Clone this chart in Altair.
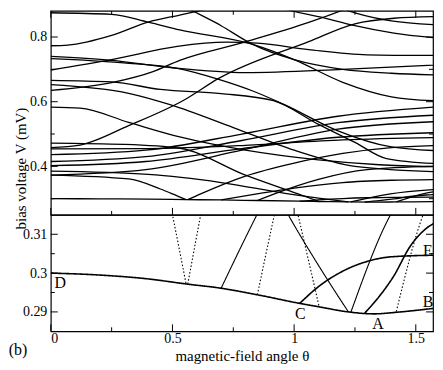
import math
import altair as alt
import pandas as pd

# ---------------- data (theta in rad, V in mV) ----------------
c01 = [(0, 0.875), (0.25, 0.870), (0.4, 0.846), (0.53, 0.822), (0.83, 0.777), (1.0, 0.73), (1.2, 0.66), (1.4, 0.615), (1.571, 0.603)]
c02 = [(0, 0.773), (0.07, 0.775), (0.25, 0.805), (0.4, 0.846), (0.53, 0.868), (0.72, 0.9), (0.8, 0.915)]
c03 = [(0.48, 0.93), (0.54, 0.9), (0.7, 0.835), (0.83, 0.777), (1.0, 0.73), (1.2, 0.70), (1.4, 0.688), (1.571, 0.683)]
c04 = [(0, 0.698), (0.25, 0.73), (0.52, 0.771), (0.72, 0.784), (0.85, 0.781), (1.06, 0.761), (1.3, 0.745), (1.571, 0.743)]
c05 = [(0, 0.740), (0.25, 0.728), (0.5, 0.705), (0.8, 0.69), (1.2, 0.70), (1.571, 0.713)]
c06 = [(0, 0.733), (0.3, 0.72), (0.52, 0.703), (0.69, 0.669), (0.83, 0.633), (0.96, 0.591), (1.18, 0.51), (1.4, 0.46), (1.571, 0.449)]
c07 = [(0, 0.666), (0.25, 0.661), (0.45, 0.638), (0.7, 0.625), (0.915, 0.603), (1.1, 0.53), (1.25, 0.474), (1.38, 0.424), (1.571, 0.409)]
c08 = [(0, 0.653), (0.32, 0.626), (0.49, 0.591), (0.75, 0.52), (1.0, 0.45), (1.25, 0.40), (1.571, 0.384)]
c09 = [(0, 0.635), (0.25, 0.659), (0.42, 0.693), (0.53, 0.728), (0.8, 0.785), (1.06, 0.845), (1.25, 0.898), (1.32, 0.92)]
c10 = [(0, 0.458), (0.12, 0.466), (0.32, 0.526), (0.55, 0.606), (0.69, 0.672), (1.06, 0.786), (1.25, 0.841), (1.41, 0.858), (1.571, 0.863)]
c11 = [(1.12, 0.91), (1.25, 0.875), (1.4, 0.85), (1.571, 0.838)]
c12 = [(0.88, 0.91), (0.91, 0.9), (1.13, 0.858), (1.25, 0.835), (1.41, 0.812), (1.571, 0.798)]
c13 = [(0, 0.583), (0.12, 0.58), (0.32, 0.536), (0.53, 0.491), (0.8, 0.45), (1.1, 0.42), (1.35, 0.405), (1.571, 0.399)]
c14 = [(0, 0.472), (0.3, 0.468), (0.53, 0.456), (0.8, 0.373), (1.016, 0.315), (1.103, 0.2913)]
c15 = [(0, 0.436), (0.39, 0.45), (0.785, 0.50), (1.18, 0.555), (1.571, 0.583)]
c16 = [(0, 0.415), (0.39, 0.43), (0.785, 0.48), (1.18, 0.535), (1.571, 0.558)]
c17 = [(0, 0.402), (0.39, 0.415), (0.785, 0.455), (1.18, 0.49), (1.571, 0.504)]
c18 = [(0, 0.385), (0.4, 0.375), (0.7, 0.35), (0.976, 0.315), (1.1, 0.302), (1.223, 0.290)]
c19 = [(0, 0.373), (0.32, 0.361), (0.45, 0.33), (0.5, 0.315), (0.556, 0.2972)]
c20 = [(0, 0.373), (0.39, 0.39), (0.785, 0.45), (1.18, 0.515), (1.571, 0.538)]
c21 = [(0.563, 0.2972), (0.616, 0.315), (0.8, 0.37), (1.0, 0.41), (1.2, 0.44), (1.4, 0.458), (1.571, 0.464)]
c22 = [(0.70, 0.2961), (0.847, 0.315), (1.0, 0.333), (1.2, 0.35), (1.4, 0.357), (1.571, 0.359)]
c23 = [(0.849, 0.2944), (0.919, 0.315), (1.1, 0.36), (1.3, 0.39), (1.571, 0.40)]
c24 = [(1.233, 0.2899), (1.396, 0.315), (1.571, 0.328)]
c25 = [(1.42, 0.2901), (1.53, 0.315), (1.571, 0.321)]
c26 = [(1.29, 0.2897), (1.35, 0.294), (1.41, 0.2993), (1.477, 0.3069), (1.543, 0.3115), (1.571, 0.3127)]
c27 = [(1.023, 0.2922), (1.1, 0.2965), (1.2, 0.3005), (1.3, 0.303), (1.4, 0.3042), (1.571, 0.3046)]
c28 = [(0, 0.300), (0.2, 0.2995), (0.4, 0.2985), (0.556, 0.2972), (0.70, 0.2961), (0.85, 0.2944), (1.023, 0.2922),
       (1.103, 0.2913), (1.223, 0.2900), (1.33, 0.2895), (1.42, 0.2899), (1.571, 0.2909)]
c29 = [(0, 0.454), (0.4, 0.455), (0.8, 0.465), (1.2, 0.482), (1.571, 0.489)]

# line style of each curve in the zoomed panel
styles = {
    "c14": "dotted", "c19": "dotted", "c21": "dotted", "c23": "dotted", "c25": "dotted",
    "c26": "thick", "c27": "thick", "c28": "thick",
}

# letters in the zoomed panel
lab_text = ["D", "C", "A", "B", "E"]
lab_theta = [0.039, 1.025, 1.345, 1.55, 1.55]
lab_v = [0.2975, 0.2894, 0.2870, 0.2925, 0.3057]

# ticks
x_major = [0, 0.5, 1, 1.5]
x_minor = [0.25, 0.75, 1.25]
top_y_major = [0.4, 0.6, 0.8]
top_y_minor = [0.3, 0.5, 0.7]
bot_y_major = [0.29, 0.3, 0.31]
bot_y_minor = [0.295, 0.305]

# ---------------- build table ----------------
curves = {name: pts for name, pts in [
    ("c01", c01), ("c02", c02), ("c03", c03), ("c04", c04), ("c05", c05), ("c06", c06), ("c07", c07),
    ("c08", c08), ("c09", c09), ("c10", c10), ("c11", c11), ("c12", c12), ("c13", c13), ("c14", c14),
    ("c15", c15), ("c16", c16), ("c17", c17), ("c18", c18), ("c19", c19), ("c20", c20), ("c21", c21),
    ("c22", c22), ("c23", c23), ("c24", c24), ("c25", c25), ("c26", c26), ("c27", c27), ("c28", c28),
    ("c29", c29)]}
rows = []
for name, pts in curves.items():
    st = styles.get(name, "solid")
    for i, (t, v) in enumerate(pts):
        rows.append({"curve": name, "theta": t, "V": v, "style": st, "order": i,
                     "w": 1.6 if st == "thick" else 1.1})
df = pd.DataFrame(rows)

FONT = "Liberation Serif"
W, H1, H2 = 384, 205, 117
TMAJ, TMIN = 7, 4

xs = alt.Scale(domain=[0, math.pi / 2], nice=False, zero=False)
ys_top = alt.Scale(domain=[0.25, 0.881], nice=False, zero=False)
ys_bot = alt.Scale(domain=[0.285, 0.315], nice=False, zero=False)

ax_x_top = alt.Axis(values=x_major, labels=False, ticks=False, domain=False, grid=False, title=None)
ax_y_top = alt.Axis(values=top_y_major, ticks=False, domain=False, grid=False, labelPadding=4,
                    labelExpr="'' + datum.value",
                    title="bias voltage V (mV)", titleX=-30, titleY=158, titleAngle=270,
                    titleAlign="center", titleBaseline="middle")
ax_x_bot = alt.Axis(values=x_major, ticks=False, domain=False, grid=False, labelPadding=0,
                    labelExpr="'' + datum.value",
                    title="magnetic-field angle θ", titleY=24, titleBaseline="middle")
ax_y_bot = alt.Axis(values=bot_y_major, ticks=False, domain=False, grid=False, labelPadding=4,
                    labelExpr="'' + datum.value", title=None)


def tick_layers(yscale, xaxis, yaxis, y_major, y_minor, H, top_ticks=True):
    layers = []
    for vals, ln in [(x_major, TMAJ), (x_minor, TMIN)]:
        d = pd.DataFrame({"theta": vals})
        layers.append(alt.Chart(d).mark_rule(color="black", strokeWidth=1).encode(
            x=alt.X("theta:Q", scale=xs, axis=xaxis), y=alt.value(H), y2=alt.value(H - ln)))
        if top_ticks:
            layers.append(alt.Chart(d).mark_rule(color="black", strokeWidth=1).encode(
                x=alt.X("theta:Q", scale=xs, axis=xaxis), y=alt.value(0), y2=alt.value(ln)))
    for vals, ln in [(y_major, TMAJ), (y_minor, TMIN)]:
        d = pd.DataFrame({"V": vals})
        layers.append(alt.Chart(d).mark_rule(color="black", strokeWidth=1).encode(
            y=alt.Y("V:Q", scale=yscale, axis=yaxis), x=alt.value(0), x2=alt.value(ln)))
        layers.append(alt.Chart(d).mark_rule(color="black", strokeWidth=1).encode(
            y=alt.Y("V:Q", scale=yscale, axis=yaxis), x=alt.value(W), x2=alt.value(W - ln)))
    return layers


top_lines = alt.Chart(df).mark_line(color="black", strokeWidth=1.3, interpolate="monotone", clip=True).encode(
    x=alt.X("theta:Q", scale=xs, axis=ax_x_top),
    y=alt.Y("V:Q", scale=ys_top, axis=ax_y_top),
    detail="curve:N",
    order="order:Q",
)
top = alt.layer(top_lines, *tick_layers(ys_top, ax_x_top, ax_y_top, top_y_major, top_y_minor, H1, True)).properties(
    width=W, height=H1)

bot_lines = alt.Chart(df).mark_line(color="black", interpolate="monotone", clip=True).encode(
    x=alt.X("theta:Q", scale=xs, axis=ax_x_bot),
    y=alt.Y("V:Q", scale=ys_bot, axis=ax_y_bot),
    detail="curve:N",
    order="order:Q",
    strokeDash=alt.StrokeDash("style:N", scale=alt.Scale(domain=["solid", "dotted", "thick"],
                                                         range=[[1, 0], [1.5, 2], [1, 0]]), legend=None),
    strokeWidth=alt.StrokeWidth("w:Q", scale=None),
)
labels = alt.Chart(pd.DataFrame({"txt": lab_text, "theta": lab_theta, "V": lab_v})).mark_text(
    font=FONT, fontSize=16, color="black", align="center", baseline="middle").encode(
    x=alt.X("theta:Q", scale=xs, axis=ax_x_bot), y=alt.Y("V:Q", scale=ys_bot, axis=ax_y_bot), text="txt:N")
panel_tag = alt.Chart(pd.DataFrame({"txt": ["(b)"]})).mark_text(
    font=FONT, fontSize=16, color="black", align="center", baseline="middle").encode(
    x=alt.value(-33), y=alt.value(136), text="txt:N")
bottom = alt.layer(bot_lines, labels, panel_tag,
                   *tick_layers(ys_bot, ax_x_bot, ax_y_bot, bot_y_major, bot_y_minor, H2, False)).properties(
    width=W, height=H2)

chart = alt.vconcat(top, bottom, spacing=0, bounds="flush").properties(padding=0).configure_view(
    stroke="black", strokeWidth=1.2).configure_axis(
    labelFont=FONT, labelFontSize=14, labelColor="black", titleFont=FONT, titleFontSize=15,
    titleColor="black", titleFontWeight="normal").configure_text(font=FONT)

chart.save("out.html", embed_options={"renderer": "svg", "actions": False})
